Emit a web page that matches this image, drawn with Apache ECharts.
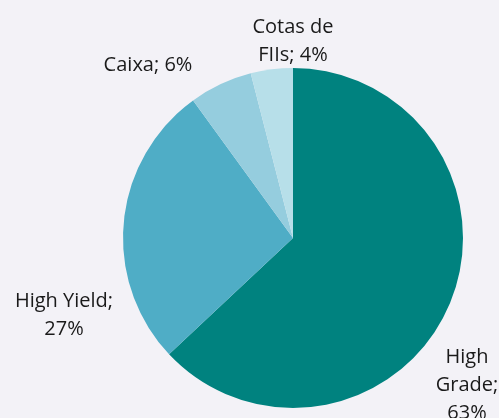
<!DOCTYPE html>
<html>
<head>
<meta charset="utf-8">
<script src="https://cdn.jsdelivr.net/npm/echarts@6/dist/echarts.min.js"></script>
<style>
html, body { margin: 0; padding: 0; background: #f3f2f7; }
#main { width: 499px; height: 418px; }
</style>
</head>
<body>
<div id="main"></div>
<script>
var categories = ['High Grade', 'High Yield', 'Caixa', 'Cotas de FIIs'];
var values = [63, 27, 6, 4];
var labelTexts = ['High\nGrade;\n63%', 'High Yield;\n27%', 'Caixa; 6%', 'Cotas de\nFIIs; 4%'];
var colors = ['#00827f', '#4fadc6', '#95cdde', '#b7dfe9'];
// label anchor positions (layout only)
var labelPos = [[467, 385], [64, 315], [148, 65], [293, 41]];

function createOption(){
	var data = [];
	for (var i = 0; i < categories.length; i++) {
		data.push({
			name: categories[i],
			value: values[i],
			itemStyle: { color: colors[i] },
			label: { formatter: labelTexts[i] }
		});
	}
	var option = {
		backgroundColor: '#f3f2f7',
		animation: false,
		series: [
			{
				type: 'pie',
				radius: 170,
				center: [293, 238],
				startAngle: 90,
				clockwise: true,
				data: data,
				label: {
					show: true,
					position: 'outside',
					color: '#1a1a1a',
					fontSize: 20,
					lineHeight: 28,
					fontFamily: 'Open Sans',
					align: 'center',
					overflow: 'none'
				},
				labelLine: { show: false },
				labelLayout: function (params) {
					var p = labelPos[params.dataIndex];
					return { x: p[0], y: p[1], align: 'center', verticalAlign: 'middle', hideOverlap: false };
				}
			}
		]
	};
	return option;
}

var myChart = echarts.init(document.getElementById('main'));
myChart.setOption(createOption());
</script>
</body>
</html>
